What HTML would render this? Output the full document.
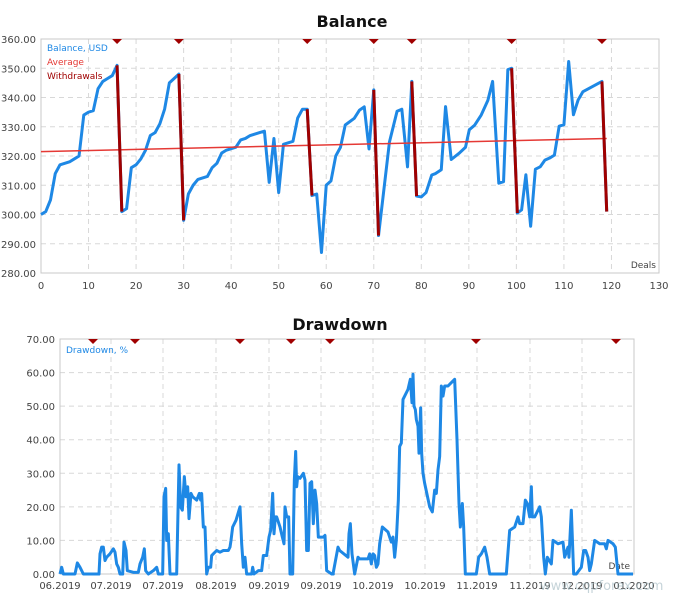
<!DOCTYPE html>
<html><head><meta charset="utf-8"><style>
body{margin:0;background:#fff;width:673px;height:600px;overflow:hidden}
svg{display:block}
text{font-family:"DejaVu Sans","Liberation Sans",sans-serif}
</style></head><body>
<svg id="s" width="673" height="600" xmlns="http://www.w3.org/2000/svg">
<text x="352" y="27" text-anchor="middle" font-size="16" font-weight="bold" fill="#111">Balance</text>
<text x="340" y="330" text-anchor="middle" font-size="16" font-weight="bold" fill="#111">Drawdown</text>
<g id="g"></g>
</svg>
<script>
var NS="http://www.w3.org/2000/svg",g=document.getElementById('g');
function el(t,a,txt){var e=document.createElementNS(NS,t);for(var k in a)e.setAttribute(k,a[k]);if(txt!=null)e.textContent=txt;g.appendChild(e);return e;}
// Balance chart
var L=41,R=659,T=39,B=273;
function bx(d){return L+d*(R-L)/130}function by(v){return T+(360-v)*(B-T)/80}
for(var i=1;i<13;i++)el('line',{x1:bx(i*10),x2:bx(i*10),y1:T,y2:B,stroke:'#d8d8d8','stroke-dasharray':'5,4'});
for(var v=290;v<360;v+=10)el('line',{x1:L,x2:R,y1:by(v),y2:by(v),stroke:'#d8d8d8','stroke-dasharray':'5,4'});
el('rect',{x:L,y:T,width:R-L,height:B-T,fill:'none',stroke:'#c8c8c8'});
for(var v=280;v<=360;v+=10)el('text',{x:36,y:by(v)+4,'text-anchor':'end','font-size':10,fill:'#444'},v.toFixed(2));
for(var i=0;i<=13;i++)el('text',{x:bx(i*10),y:289,'text-anchor':'middle','font-size':10,fill:'#444'},i*10);
el('text',{x:656,y:268,'text-anchor':'end','font-size':9,fill:'#444'},'Deals');
var bal=[[0,300],[1,301],[2,305],[3,314],[4,317],[5,317.5],[6,318],[7,319],[8,320],[9,334],[10,335],[11,335.5],[12,343],[13,345.5],[14,346.5],[15,347.5],[16,351],[17,301],[18,302],[19,316],[20,317],[21,319],[22,322],[23,327],[24,328],[25,331],[26,336],[27,345],[28,346.5],[29,348],[30,298],[31,307],[32,310],[33,312],[34,312.5],[35,313],[36,316],[37,317.5],[38,321],[39,322],[40,322.5],[41,323],[42,325.5],[43,326],[44,327],[45,327.5],[46,328],[47,328.5],[48,311],[49,326],[50,307.5],[51,324],[52,324.5],[53,325],[54,333],[55,336],[56,336],[57,306.5],[58,307],[59,287],[60,310],[61,311.5],[62,320],[63,323],[64,330.6],[65.9,332.9],[67,335.7],[68,336.8],[69,322.4],[70,342.6],[71,292.8],[73.3,324.8],[74.9,335.3],[75.9,336],[77.1,316.3],[78,345.5],[79,306.3],[80,306],[81,307.5],[82.2,313.5],[83,314],[84.2,315.3],[85.1,336.9],[86.3,318.8],[88,321],[89.3,323],[90.1,329],[91.2,330.5],[92.6,334],[94,339],[95,345.5],[96.3,310.7],[97.3,311.2],[98.2,349.5],[99,350],[100.2,300.5],[101.1,301.6],[102,313.6],[103,296],[104,315.5],[105,316.3],[106,318.6],[107,319.3],[108,320.3],[109,330.2],[110,330.7],[111,352.3],[112,334.1],[113,339.2],[114,342],[118,345.5],[119,301]];
el('polyline',{points:bal.map(function(p){return bx(p[0])+','+by(p[1])}).join(' '),fill:'none',stroke:'#1e88e5','stroke-width':3,'stroke-linejoin':'round'});
el('line',{x1:bx(0),y1:by(321.5),x2:bx(119),y2:by(326),stroke:'#e53935','stroke-width':1.5});
var wd=[16,29,56,70,78,99,118];
bal.forEach(function(p,i){if(wd.indexOf(p[0])>=0&&bal[i+1]){var q=bal[i+1];el('line',{x1:bx(p[0]),y1:by(p[1]),x2:bx(q[0]),y2:by(q[1]),stroke:'#a00000','stroke-width':3});}});
wd.forEach(function(d){var x=bx(d);el('path',{d:'M'+(x-5)+' '+T+'L'+(x+5)+' '+T+'L'+x+' '+(T+5)+'Z',fill:'#a00000'});});
el('text',{x:47,y:51,'font-size':9,fill:'#1e88e5'},'Balance, USD');
el('text',{x:47,y:65,'font-size':9,fill:'#e53935'},'Average');
el('text',{x:47,y:79,'font-size':9,fill:'#a00000'},'Withdrawals');
// Drawdown chart
var L2=60,R2=634,T2=339,B2=574;
function dy(v){return B2-v*(B2-T2)/70}
var xs=[60,111,163,216,269,321,373,425,477,530,582,634],lab=['06.2019','07.2019','07.2019','08.2019','09.2019','09.2019','10.2019','10.2019','11.2019','11.2019','12.2019','01.2020'];
for(var i=1;i<11;i++)el('line',{x1:xs[i],x2:xs[i],y1:T2,y2:B2,stroke:'#d8d8d8','stroke-dasharray':'5,4'});
for(var v=10;v<70;v+=10)el('line',{x1:L2,x2:R2,y1:dy(v),y2:dy(v),stroke:'#d8d8d8','stroke-dasharray':'5,4'});
el('rect',{x:L2,y:T2,width:R2-L2,height:B2-T2,fill:'none',stroke:'#c8c8c8'});
for(var v=0;v<=70;v+=10)el('text',{x:55,y:dy(v)+4,'text-anchor':'end','font-size':10,fill:'#444'},v.toFixed(2));
for(var i=0;i<12;i++)el('text',{x:xs[i],y:589,'text-anchor':'middle','font-size':10,fill:'#444'},lab[i]);
el('text',{x:630,y:569,'text-anchor':'end','font-size':9,fill:'#444'},'Date');
var A=[[180,0],[185,2],[190,0],[225,0],[232,3.3],[240,2],[250,0],[297,0],[300,6],[305,8],[310,8],[315,4],[320,5],[330,6],[340,7.5],[345,6.5],[350,3],[355,2],[360,0],[368,0],[372,9.5],[378,7],[382,1],[400,0.5],[415,0.5],[420,3],[428,5],[433,7.5],[437,1],[445,0],[460,1],[470,2],[475,0],[488,0],[492,23],[497,25.5],[500,10],[505,12],[510,0],[530,0],[537,32.5],[542,20],[547,19],[553,29],[558,23],[563,26],[567,16.5],[573,24],[578,23],[590,22],[598,24],[602,22],[605,24],[610,14],[615,14],[620,0],[625,2],[632,2],[635,5.5],[640,6],[650,7],[660,6.5],[670,7],[685,7],[690,8],[693,10],[698,14],[708,16],[720,20],[725,9],[730,2],[735,5],[740,0],[755,0],[758,2],[762,0],[775,1],[785,1],[790,5.5],[800,5.5],[807,11],[812,13],[818,24],[822,12],[826,17],[830,17],[840,14],[847,11],[852,9],[855,20],[860,17],[866,17],[870,0],[878,0],[883,28],[887,36.5],[890,26],[893,29],[900,28.5],[910,30],[915,28],[920,7],[925,7],[930,27],[935,27.5],[940,15],[945,25],[950,21],[955,11],[970,11],[975,11.5],[980,1],[995,0],[1000,0]];
var Bp=[[0,0],[15,8],[20,7],[45,5],[48,12],[52,15],[57,6],[65,0],[75,5],[80,4.5],[105,4.5],[110,6],[115,3],[120,6],[125,5.5],[130,2],[135,3],[140,9],[148,14],[165,12.5],[175,9.5],[180,11],[185,5],[190,10],[196,22],[200,38],[205,39],[210,52],[225,55],[232,58],[237,51],[240,59.5],[243,50],[247,49],[250,46],[255,44],[258,36],[263,49.5],[266,36],[270,30],[275,27],[290,20],[298,18.5],[305,25],[310,24],[315,31],[320,35],[325,56],[330,53],[335,56],[345,56],[365,58],[372,40],[378,21],[382,14],[388,21],[392,14],[397,0],[430,0],[437,5],[445,6],[455,8],[462,5],[470,0],[520,0],[530,13],[545,14],[555,17],[560,15],[570,15],[577,22],[583,21],[590,17],[595,26],[598,17],[605,17],[620,20],[625,17],[632,5],[637,0],[643,5],[655,3],[660,10],[675,9],[690,9.5],[695,5],[705,8],[708,5],[715,19],[722,0],[730,0],[745,2],[752,7],[758,7],[765,5],[770,1],[775,3],[785,10],[800,9],[815,9],[820,7.5],[825,10],[840,9],[847,8],[855,0],[900,0]];
var pts=A.map(function(p){return (p[0]/3)+','+dy(p[1])}).concat(Bp.map(function(p){return (333+p[0]/3)+','+dy(p[1])}));
el('polyline',{points:pts.join(' '),fill:'none',stroke:'#1e88e5','stroke-width':3,'stroke-linejoin':'round'});
[93,135,240,291,330,476,616].forEach(function(x){el('path',{d:'M'+(x-5)+' '+T2+'L'+(x+5)+' '+T2+'L'+x+' '+(T2+5)+'Z',fill:'#a00000'});});
el('text',{x:66,y:353,'font-size':9,fill:'#1e88e5'},'Drawdown, %');
el('text',{x:540,y:590,'font-size':13,fill:'#a0b8c0','fill-opacity':0.6},'www.cqpforex.com');
</script>
</body></html>
